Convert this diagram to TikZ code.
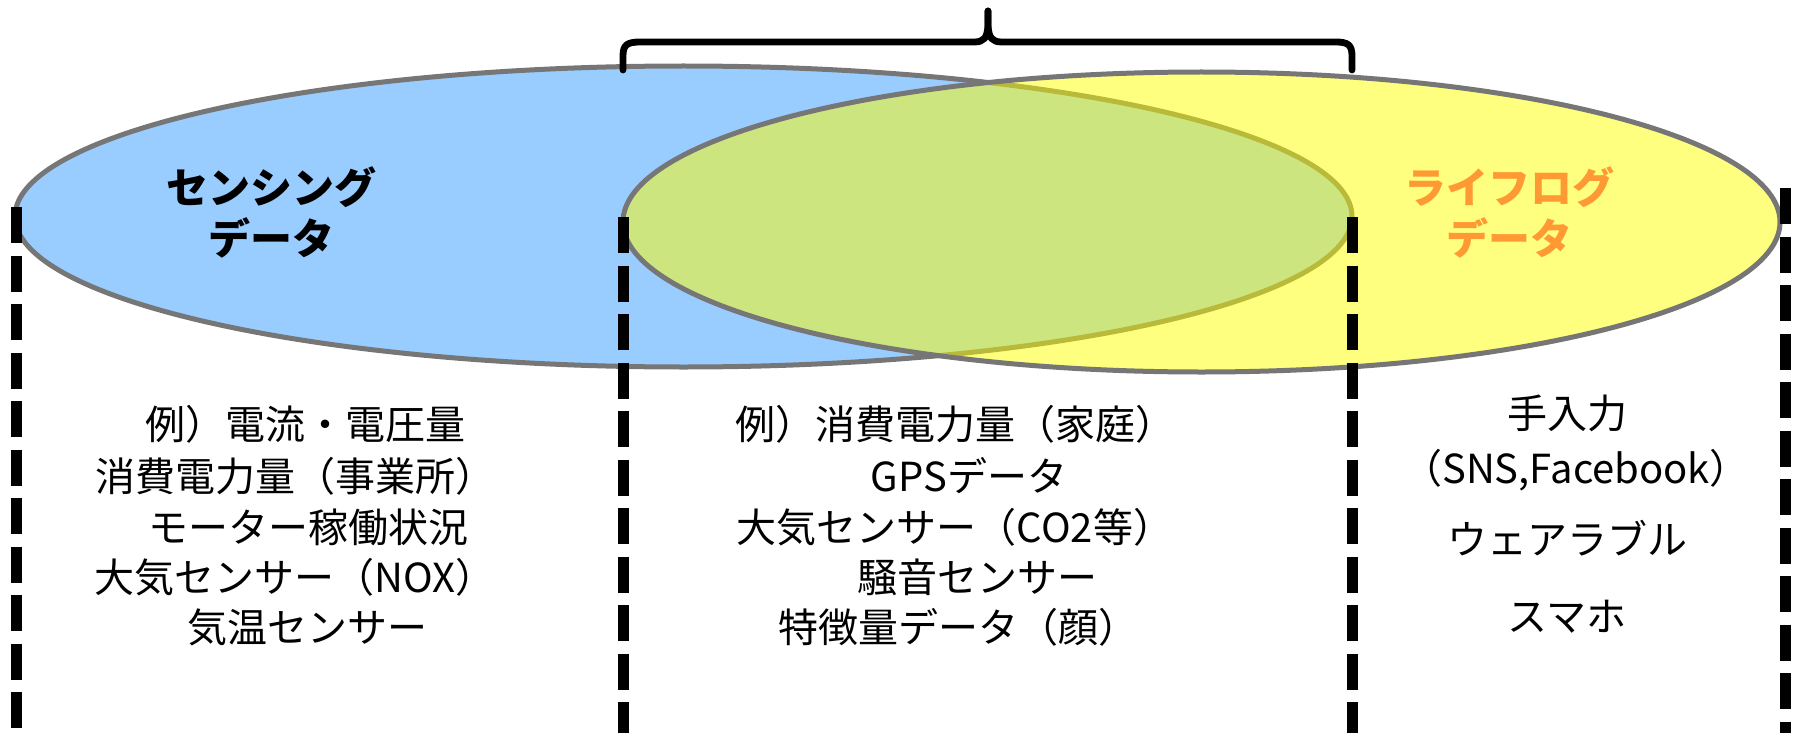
\documentclass[tikz,border=0pt]{standalone}
\usepackage{fontspec}
\newfontfamily\jp{Noto Sans CJK JP}
\definecolor{setblue}{HTML}{99CCFF}
\definecolor{setyellow}{HTML}{FFFF00}
\definecolor{rimgray}{HTML}{767676}
\definecolor{lifeorange}{HTML}{FF9933}
\tikzset{
  rim/.style={draw=rimgray, line width=2.5pt},
  divider/.style={line width=5.5pt, dash pattern=on 18pt off 6.25pt},
  bracketline/.style={line width=3.4pt, line cap=round, line join=round},
  title/.style={font=\jp\bfseries\fontsize{21pt}{25pt}\selectfont, anchor=base, inner sep=0pt},
  item/.style={font=\jp\fontsize{20pt}{24pt}\selectfont, anchor=base, inner sep=0pt},
}
\begin{document}
\begin{tikzpicture}[x=0.5pt, y=-0.5pt]
\useasboundingbox (0,0) rectangle (1793,733);
% sets
\fill[setblue] (683.5,216.5) ellipse [x radius=334.25pt, y radius=75.25pt];
\draw[rim] (683.5,216.5) ellipse [x radius=334.25pt, y radius=75.25pt];
\fill[setyellow, fill opacity=0.5] (1201.5,222) ellipse [x radius=289.25pt, y radius=75pt];
\draw[rim] (1201.5,222) ellipse [x radius=289.25pt, y radius=75pt];
% dividers
\draw[divider] (16,207) -- (16,733);
\draw[divider] (623,217) -- (623,733);
\draw[divider] (1352,217) -- (1352,733);
\draw[divider] (1785,188) -- (1785,733);
% bracket
\coordinate (tip) at (988,11);
\draw[bracketline] (623,70) -- (623,56) .. controls (623,45) and (627,42) .. (640,42) -- (974,42) .. controls (984,42) and (987,38) .. (988,26) -- (tip);
\draw[bracketline] (tip) -- (988,26) .. controls (989,38) and (992,42) .. (1002,42) -- (1336,42) .. controls (1348,42) and (1352,45) .. (1352,56) -- (1352,70);
% titles
\node[title] (s1) at (271,203) {センシング};
\node[title] (s2) at (271,254) {データ};
\node[title, text=lifeorange] (l1) at (1509,203) {ライフログ};
\node[title, text=lifeorange] (l2) at (1509,254) {データ};
% left list
\node[item] (a1) at (305,439) {例）電流・電圧量};
\node[item] (a2) at (295,491) {消費電力量（事業所）};
\node[item] (a3) at (308,542) {モーター稼働状況};
\node[item] (a4) at (295,592) {大気センサー（NOX）};
\node[item] (a5) at (307,642) {気温センサー};
% middle list
\node[item] (b1) at (955,439) {例）消費電力量（家庭）};
\node[item] (b2) at (969,491) {GPSデータ};
\node[item] (b3) at (955,542) {大気センサー（CO2等）};
\node[item] (b4) at (977,592) {騒音センサー};
\node[item] (b5) at (958,642) {特徴量データ（顔）};
% right list
\node[item] (c1) at (1567,428) {手入力};
\node[item] (c2) at (1576,483) {（SNS,Facebook）};
\node[item] (c3) at (1567,554) {ウェアラブル};
\node[item] (c4) at (1567,631) {スマホ};
\end{tikzpicture}
\end{document}
